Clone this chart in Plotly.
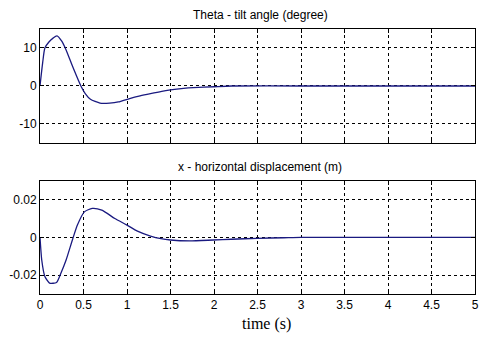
import plotly.graph_objects as go
from plotly.subplots import make_subplots

# Theta - tilt angle (degree)
t_theta = [0, 0.03, 0.056, 0.1, 0.15, 0.195, 0.25, 0.3, 0.375, 0.47, 0.52, 0.58, 0.69, 0.8, 0.9,
           1.03, 1.15, 1.27, 1.4, 1.5, 1.65, 1.76, 2.0, 2.2, 3, 4, 5]
theta = [0, 6, 10, 11.5, 12.6, 13.2, 11.8, 9.5, 5.1, 0, -2, -3.5, -4.5, -4.5, -4.2,
         -3.3, -2.6, -2.0, -1.4, -1.05, -0.65, -0.45, -0.2, 0, 0, 0, 0]

# x - horizontal displacement (m)
t_x = [0, 0.02, 0.056, 0.11, 0.19, 0.24, 0.3, 0.375, 0.43, 0.51, 0.6, 0.71, 0.86, 1.0, 1.12,
       1.27, 1.39, 1.5, 1.72, 1.99, 2.2, 2.5, 2.8, 3, 4, 5]
x_disp = [0, -0.012, -0.0207, -0.0242, -0.0239, -0.019, -0.012, -0.001, 0.0065, 0.0135, 0.0153,
          0.0144, 0.010, 0.0065, 0.0033, 0.0007, -0.0007, -0.0014, -0.0019, -0.0014, -0.001,
          -0.0005, -0.0002, 0, 0, 0]

x_ticks = [0, 0.5, 1, 1.5, 2, 2.5, 3, 3.5, 4, 4.5, 5]
x_tick_text = ["0", "0.5", "1", "1.5", "2", "2.5", "3", "3.5", "4", "4.5", "5"]
theta_ticks = [-10, 0, 10]
theta_tick_text = ["-10", "0", "10"]
x_disp_ticks = [-0.02, 0, 0.02]
x_disp_tick_text = ["-0.02", "0", "0.02"]

line_color = "#1a1a80"
font = "Liberation Sans, Arial, sans-serif"

# the page body has an 8px margin; keep the figure inside the body so nothing overflows
W, H = 471, 325
L, R, T = 32, 4, 21
PLOT_BOTTOM = 286  # in figure pixels (page 294)
B = H - PLOT_BOTTOM

fig = make_subplots(rows=2, cols=1)
fig.add_trace(go.Scatter(x=t_theta, y=theta, mode="lines",
                         line=dict(color=line_color, width=1.3, shape="spline", smoothing=0.6),
                         showlegend=False), row=1, col=1)
fig.add_trace(go.Scatter(x=t_x, y=x_disp, mode="lines",
                         line=dict(color=line_color, width=1.3, shape="spline", smoothing=0.6),
                         showlegend=False), row=2, col=1)

axis_common = dict(showline=True, linecolor="black", linewidth=1, mirror="ticks", ticks="inside", ticklen=4,
                   tickcolor="black", showgrid=True, gridcolor="black", griddash="dot", gridwidth=1,
                   zeroline=False, automargin=False, tickfont=dict(family=font, size=12, color="black"))

fig.update_xaxes(range=[0, 5], tickvals=x_ticks, ticktext=x_tick_text, **axis_common)
fig.update_xaxes(showticklabels=False, row=1, col=1)
fig.update_yaxes(**axis_common)
fig.update_yaxes(range=[-15, 15], tickvals=theta_ticks, ticktext=theta_tick_text, row=1, col=1)
fig.update_yaxes(range=[-0.03, 0.03], tickvals=x_disp_ticks, ticktext=x_disp_tick_text, row=2, col=1)

plot_top, plot_bottom = T, PLOT_BOTTOM
plot_left, plot_right = L, W - R
def ypaper(px):
    return (plot_bottom - px) / (plot_bottom - plot_top)
def xpaper(px):
    return (px - plot_left) / (plot_right - plot_left)

fig.update_layout(
    width=W, height=H,
    margin=dict(l=L, r=R, t=T, b=B, autoexpand=False),
    paper_bgcolor="white", plot_bgcolor="white",
    xaxis=dict(domain=[0, 1]), yaxis=dict(domain=[0.570, 1]),
    xaxis2=dict(domain=[0, 1]), yaxis2=dict(domain=[0, 0.4275]),
    annotations=[
        dict(text="Theta - tilt angle (degree)", x=xpaper(252), xref="paper", y=ypaper(7), yref="paper",
             xanchor="center", yanchor="middle",
             showarrow=False, font=dict(family=font, size=12, color="black")),
        dict(text="x - horizontal displacement (m)", x=xpaper(252), xref="paper", y=ypaper(159), yref="paper",
             xanchor="center", yanchor="middle",
             showarrow=False, font=dict(family=font, size=12, color="black")),
        dict(text="time (s)", x=xpaper(258), xref="paper", y=ypaper(316), yref="paper",
             xanchor="center", yanchor="middle",
             showarrow=False, font=dict(family="Liberation Serif, Times New Roman, serif", size=16, color="black")),
    ],
)

fig.write_html("out.html")
